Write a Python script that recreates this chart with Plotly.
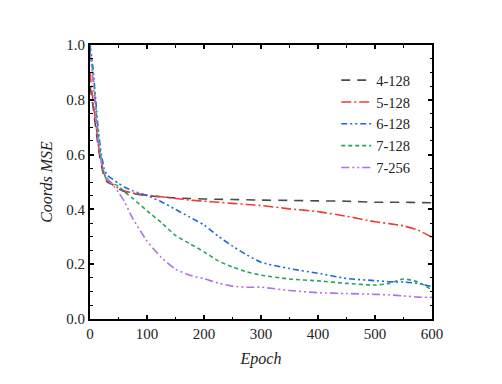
import plotly.graph_objects as go

epochs = [0, 5, 10, 15, 20, 25, 30, 40, 50, 60, 75, 100, 125, 150, 175, 200,
          225, 250, 275, 300, 350, 400, 450, 500, 525, 550, 575, 600]

mse_4_128 = [0.85, 0.78, 0.70, 0.62, 0.56, 0.52, 0.50, 0.49, 0.475, 0.465, 0.458, 0.45, 0.446, 0.442,
             0.44, 0.438, 0.437, 0.436, 0.435, 0.434, 0.433, 0.431, 0.43, 0.426, 0.426, 0.426, 0.425, 0.424]
mse_5_128 = [0.90, 0.80, 0.72, 0.63, 0.57, 0.53, 0.505, 0.49, 0.478, 0.468, 0.46, 0.452, 0.446, 0.44,
             0.434, 0.43, 0.426, 0.422, 0.418, 0.414, 0.402, 0.392, 0.375, 0.355, 0.348, 0.34, 0.325, 0.298]
mse_6_128 = [1.00, 0.92, 0.80, 0.68, 0.60, 0.55, 0.525, 0.51, 0.495, 0.482, 0.468, 0.45, 0.428, 0.40,
             0.372, 0.343, 0.302, 0.266, 0.234, 0.207, 0.184, 0.167, 0.148, 0.14, 0.136, 0.135, 0.13, 0.118]
mse_7_128 = [0.98, 0.90, 0.78, 0.66, 0.58, 0.53, 0.505, 0.495, 0.485, 0.465, 0.44, 0.395, 0.352, 0.305,
             0.275, 0.245, 0.212, 0.19, 0.172, 0.16, 0.146, 0.139, 0.13, 0.124, 0.13, 0.146, 0.135, 0.106]
mse_7_256 = [0.97, 0.88, 0.75, 0.64, 0.57, 0.535, 0.515, 0.49, 0.462, 0.43, 0.367, 0.285, 0.225, 0.182,
             0.16, 0.147, 0.131, 0.12, 0.116, 0.116, 0.104, 0.096, 0.093, 0.09, 0.088, 0.084, 0.08, 0.079]

series_names = ["4-128", "5-128", "6-128", "7-128", "7-256"]
series_values = [mse_4_128, mse_5_128, mse_6_128, mse_7_128, mse_7_256]
colors = ["#4a4a4a", "#f23a3a", "#1f66dd", "#25a55a", "#b072e6"]
dashes = ["9px,7px", "10px,3px,2px,3px", "6px,3px,2px,3px,2px,3px", "4px,3px",
          "8px,3px,2px,3px,2px,3px"]

x_ticks = [0, 100, 200, 300, 400, 500, 600]
y_ticks = [0.0, 0.2, 0.4, 0.6, 0.8, 1.0]
y_tick_labels = ["0.0", "0.2", "0.4", "0.6", "0.8", "1.0"]

FONT = "Liberation Serif"

fig = go.Figure()
for name, vals, c, d in zip(series_names, series_values, colors, dashes):
    fig.add_trace(go.Scatter(
        x=epochs, y=vals, name=name, mode="lines",
        line=dict(color=c, dash=d, width=1.6, shape="spline", smoothing=0.6),
    ))

axis_common = dict(
    showline=True, linecolor="black", linewidth=2, mirror="ticks",
    ticks="inside", ticklen=4, tickwidth=1.5, tickcolor="black",
    showgrid=False, zeroline=False,
    tickfont=dict(family=FONT, size=15, color="#222"),
    minor=dict(ticks="inside", ticklen=2.5, tickwidth=1.2, tickcolor="black"),
)

fig.update_xaxes(
    range=[0, 600], tickvals=x_ticks,
    title=dict(text="<i>Epoch</i>", font=dict(family=FONT, size=16, color="#222"), standoff=12),
    **axis_common,
)
fig.update_yaxes(
    range=[0, 1.0], tickvals=y_ticks, ticktext=y_tick_labels,
    title=dict(text="<i>Coords MSE</i>", font=dict(family=FONT, size=16, color="#222"), standoff=10),
    **axis_common,
)

fig.update_layout(
    width=494, height=376,
    margin=dict(l=82, r=70, t=37, b=65),
    plot_bgcolor="white", paper_bgcolor="white",
    legend=dict(
        x=0.72, y=0.93, xanchor="left", yanchor="top",
        font=dict(family=FONT, size=14.5, color="#222"),
        bgcolor="rgba(0,0,0,0)", tracegroupgap=0, itemwidth=30,
    ),
)

fig.write_html("out.html")
